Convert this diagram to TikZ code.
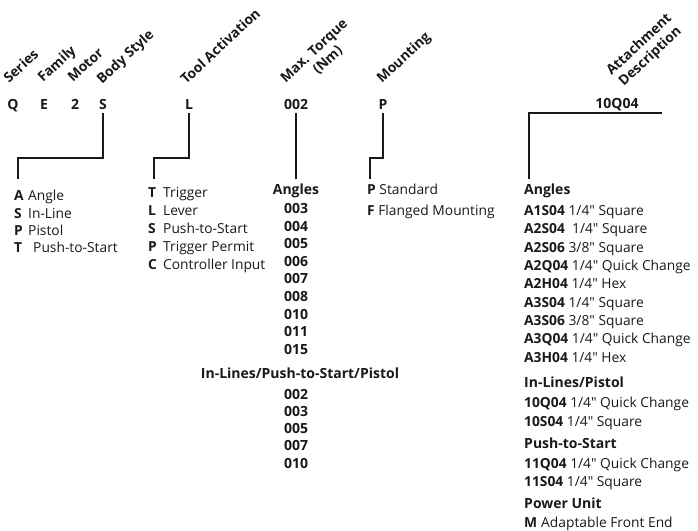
\documentclass[tikz,border=0pt]{standalone}
\usepackage{fontspec}
\setmainfont{Open Sans}[Ligatures=TeXOff]
\begin{document}
\begin{tikzpicture}[x=1pt,y=-1pt,
  every node/.style={inner sep=0pt, text=black!90},
  body/.style={font=\fontsize{13.8}{15}\selectfont},
  hdr/.style={font=\fontsize{13.8}{13}\selectfont\bfseries, rotate=43, anchor=base west},
  hdrtwo/.style={font=\fontsize{13.8}{16}\selectfont\bfseries, rotate=43, anchor=center, align=center},
  codech/.style={font=\fontsize{14}{15}\selectfont\bfseries, anchor=mid},
  item/.style={body, anchor=mid west},
  num/.style={font=\fontsize{14}{15}\selectfont\bfseries, anchor=mid},
  grp/.style={font=\fontsize{14}{15}\selectfont\bfseries, anchor=mid west},
  conn/.style={line width=1.7pt, black!90}]
\useasboundingbox (0,0) rectangle (698,530);

% rotated headers
\node[hdr] (hSeries) at (9,84) {Series};
\node[hdr] (hFamily) at (43,83) {Family};
\node[hdr] (hMotor) at (73,83) {Motor};
\node[hdr] (hBody) at (102,85) {Body Style};
\node[hdr] (hTool) at (186,85) {Tool Activation};
\node[hdrtwo] (hTorque) at (320,57) {Max. Torque\\\hspace*{7pt}(Nm)};
\node[hdr] (hMount) at (382,84) {Mounting};
\node[hdrtwo] (hAttach) at (645,51) {Attachment\\Description};

% code letters
\node[codech] (cQ) at (13,107) {Q};
\node[codech] (cE) at (44,107) {E};
\node[codech] (c2) at (75,107) {2};
\node[codech] (cS) at (103,107) {S};
\node[codech] (cL) at (189,107) {L};
\node[codech] (c002) at (296,107) {002};
\node[codech] (cP) at (383,107) {P};
\node[codech] (c10Q) at (617,106) {10Q04};

% end points of connectors
\coordinate (eS) at (18,179);
\coordinate (eL) at (154,179);
\coordinate (e002) at (296,179);
\coordinate (eP) at (370,179);
\coordinate (attR) at (662,113);
\coordinate (eAtt) at (529,179);

\draw[conn] (cS.south)++(0,3) -- (103,158) -| (eS);
\draw[conn] (cL.south)++(0,3) -- (189,158) -| (eL);
\draw[conn] (c002.south)++(0,3) -- (e002);
\draw[conn] (cP.south)++(0,3) -- (383,158) -| (eP);
\draw[conn] (attR) -| (eAtt);

\begin{scope}[yshift=-3pt]
% column 1: body style
\node[item] (bA) at (14,195) {\makebox[14pt][l]{\textbf{A}}Angle};
\node[item] (bS) at (14,213) {\makebox[14pt][l]{\textbf{S}}In-Line};
\node[item] (bP) at (14,230) {\makebox[14pt][l]{\textbf{P}}Pistol};
\node[item] (bT) at (14,247) {\makebox[19pt][l]{\textbf{T}}Push-to-Start};

% column 2: tool activation
\node[item] (tT) at (148,192) {\makebox[15pt][l]{\textbf{T}}Trigger};
\node[item] (tL) at (148,210) {\makebox[15pt][l]{\textbf{L}}Lever};
\node[item] (tS) at (148,228) {\makebox[15pt][l]{\textbf{S}}Push-to-Start};
\node[item] (tP) at (148,246) {\makebox[15pt][l]{\textbf{P}}Trigger Permit};
\node[item] (tC) at (148,264) {\makebox[15pt][l]{\textbf{C}}Controller Input};

% column 3: torque
\node[num] (qAng) at (296,189) {Angles};
\node[num] (q1) at (296,208) {003};
\node[num] (q2) at (296,226) {004};
\node[num] (q3) at (296,243) {005};
\node[num] (q4) at (296,261) {006};
\node[num] (q5) at (296,278) {007};
\node[num] (q6) at (296,296) {008};
\node[num] (q7) at (296,314) {010};
\node[num] (q8) at (296,331) {011};
\node[num] (q9) at (296,349) {015};
\node[num] (qIn) at (300,373) {In-Lines/Push-to-Start/Pistol};
\node[num] (r1) at (296,394) {002};
\node[num] (r2) at (296,411) {003};
\node[num] (r3) at (296,428) {005};
\node[num] (r4) at (296,445) {007};
\node[num] (r5) at (296,463) {010};

% column 4: mounting
\node[item] (mP) at (367,189) {\textbf{P} Standard};
\node[item] (mF) at (367,210) {\textbf{F} Flanged Mounting};

% column 5: attachment
\node[grp] (aAng) at (524,189) {Angles};
\node[item] (a1) at (524,210) {\textbf{A1S04} 1/4" Square};
\node[item] (a2) at (524,228) {\textbf{A2S04}\ \ 1/4" Square};
\node[item] (a3) at (524,247) {\textbf{A2S06} 3/8" Square};
\node[item] (a4) at (524,265) {\textbf{A2Q04} 1/4" Quick Change};
\node[item] (a5) at (524,283) {\textbf{A2H04} 1/4" Hex};
\node[item] (a6) at (524,302) {\textbf{A3S04} 1/4" Square};
\node[item] (a7) at (524,320) {\textbf{A3S06} 3/8" Square};
\node[item] (a8) at (524,338) {\textbf{A3Q04} 1/4" Quick Change};
\node[item] (a9) at (524,357) {\textbf{A3H04} 1/4" Hex};
\node[grp] (aIn) at (524,382) {In-Lines/Pistol};
\node[item] (b1) at (524,402) {\textbf{10Q04} 1/4" Quick Change};
\node[item] (b2) at (524,421) {\textbf{10S04} 1/4" Square};
\node[grp] (aPush) at (524,443) {Push-to-Start};
\node[item] (p1) at (524,463) {\textbf{11Q04} 1/4" Quick Change};
\node[item] (p2) at (524,481) {\textbf{11S04} 1/4" Square};
\node[grp] (aPow) at (524,503) {Power Unit};
\node[item] (pM) at (524,522) {\makebox[17pt][l]{\textbf{M}}Adaptable Front End};
\end{scope}
\end{tikzpicture}
\end{document}
